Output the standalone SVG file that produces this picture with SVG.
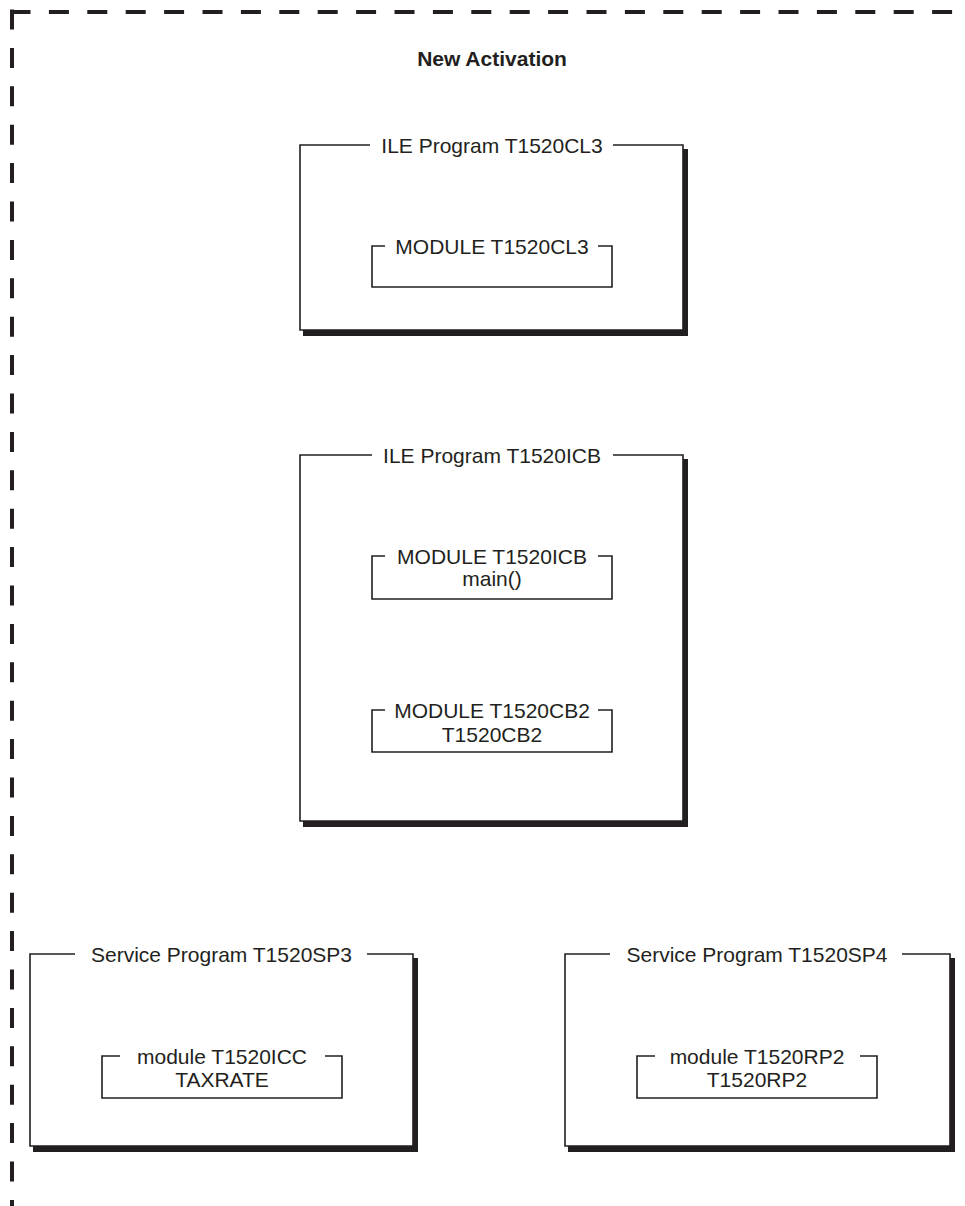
<svg xmlns="http://www.w3.org/2000/svg" width="965" height="1206" viewBox="0 0 965 1206">
<style>
text{font-family:"Liberation Sans",Arial,sans-serif;font-size:21px;fill:#231f20;text-anchor:middle}
.title{font-weight:bold}
.frame{fill:none;stroke:#231f20;stroke-width:4;stroke-dasharray:20 18.4}
.shadow{fill:#231f20}
.bg{fill:#fff}
.ol{fill:none;stroke:#231f20;stroke-width:1.6}
</style>
<rect width="965" height="1206" fill="#fff"/>
<g id="activation">
<path class="frame" d="M12 9.5V1215"/>
<path class="frame" d="M10.5 12H975"/>
<text class="title" x="492" y="66">New Activation</text>
</g>
<g id="pgm-cl3">
<rect class="shadow" x="303" y="149" width="385" height="187"/>
<rect class="bg" x="300" y="145" width="383" height="185"/>
<path class="ol" d="M370 145H300V330H683V145H613"/>
<text x="492" y="152.5">ILE Program T1520CL3</text>
<g id="mod-cl3">
<path class="ol" d="M385 246H372V287H612V246H598"/>
<text x="492" y="253.5">MODULE T1520CL3</text>
</g>
</g>
<g id="pgm-icb">
<rect class="shadow" x="303" y="459" width="385" height="368"/>
<rect class="bg" x="300" y="455" width="383" height="366"/>
<path class="ol" d="M372 455H300V821H683V455H613"/>
<text x="492" y="462.5">ILE Program T1520ICB</text>
<g id="mod-icb">
<path class="ol" d="M385 556H372V599H612V556H598"/>
<text x="492" y="563.5">MODULE T1520ICB</text>
<text x="492" y="586">main()</text>
</g>
<g id="mod-cb2">
<path class="ol" d="M385 710H372V752H612V710H598"/>
<text x="492" y="717.5">MODULE T1520CB2</text>
<text x="492" y="742">T1520CB2</text>
</g>
</g>
<g id="srvpgm-sp3">
<rect class="shadow" x="33" y="958" width="385" height="194"/>
<rect class="bg" x="30" y="954" width="383" height="192"/>
<path class="ol" d="M75 954H30V1146H413V954H367"/>
<text x="221.5" y="961.5">Service Program T1520SP3</text>
<g id="mod-icc">
<path class="ol" d="M120 1056H102V1098H342V1056H325"/>
<text x="222" y="1063.5">module T1520ICC</text>
<text x="222" y="1087">TAXRATE</text>
</g>
</g>
<g id="srvpgm-sp4">
<rect class="shadow" x="568" y="958" width="387" height="194"/>
<rect class="bg" x="565" y="954" width="385" height="192"/>
<path class="ol" d="M610 954H565V1146H950V954H902"/>
<text x="757" y="961.5">Service Program T1520SP4</text>
<g id="mod-rp2">
<path class="ol" d="M655 1056H637V1098H877V1056H860"/>
<text x="757" y="1063.5">module T1520RP2</text>
<text x="757" y="1087">T1520RP2</text>
</g>
</g>
<g id="connectors"></g>
</svg>
